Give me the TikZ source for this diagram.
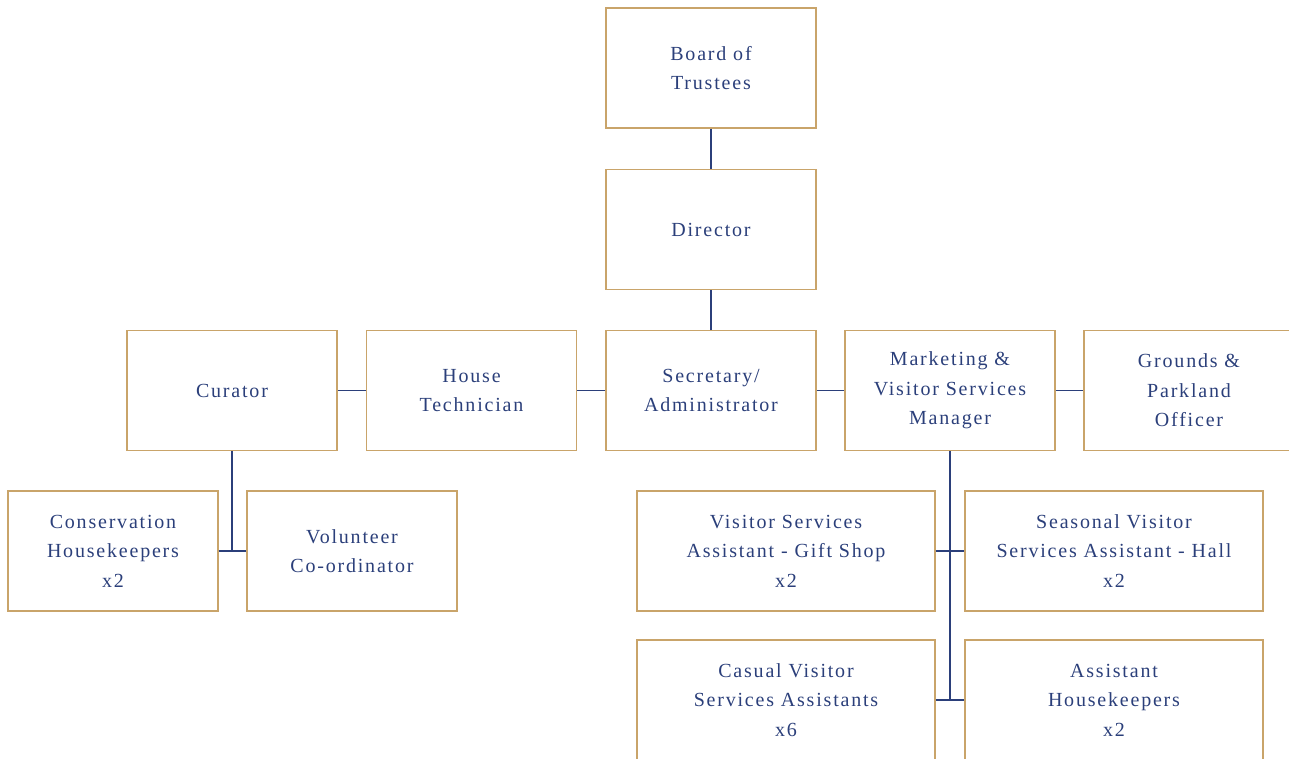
\documentclass[tikz,border=0pt]{standalone}
\usepackage{fontspec}
\usepackage{xcolor}
\usepackage{tikz}
\usetikzlibrary{positioning,calc}
\newfontfamily\orgfont[LetterSpace=9]{Liberation Serif}
\definecolor{navy}{HTML}{2B3F7A}
\definecolor{gold}{HTML}{C9A46A}
\tikzset{
    post/.style={draw=gold, line width=1.4pt, text=navy, align=center,
        minimum width=210pt, minimum height=120pt, inner sep=0pt,
        font=\orgfont\fontsize{20}{29.5}\selectfont},
    widepost/.style={post, minimum width=298pt},
    link/.style={draw=navy, line width=1.4pt}
}
\begin{document}
\begin{tikzpicture}[x=1pt, y=-1pt]
    \useasboundingbox (0, 0) rectangle (1289, 758);
    \clip (0, 0) rectangle (1289, 758);

    % Top of the tree
    \node[post] (board) at (711, 68) {Board of\\Trustees};
    \node[post] (director) at (711, 229.5) {Director};

    % Middle row
    \node[post] (curator) at (232, 390.5) {Curator};
    \node[post] (technician) at (471.5, 390.5) {House\\Technician};
    \node[post] (secretary) at (711, 390.5) {Secretary/\\Administrator};
    \node[post] (marketing) at (950, 390.5) {Marketing \&\\Visitor Services\\Manager};
    \node[post] (grounds) at (1189, 390.5) {Grounds \&\\Parkland\\Officer};

    % Curator's staff
    \node[post] (conservation) at (113, 551) {Conservation\\Housekeepers\\x2};
    \node[post] (volunteer) at (352, 551) {Volunteer\\Co-ordinator};

    % Visitor services staff
    \node[widepost] (giftshop) at (786, 551) {Visitor Services\\Assistant - Gift Shop\\x2};
    \node[widepost] (seasonal) at (1114, 551) {Seasonal Visitor\\Services Assistant - Hall\\x2};
    \node[widepost] (casual) at (786, 700) {Casual Visitor\\Services Assistants\\x6};
    \node[widepost] (assistant) at (1114, 700) {Assistant\\Housekeepers\\x2};

    % Lines
    \draw[link] (board.south) -- (director.north);
    \draw[link] (director.south) -- (secretary.north);
    \draw[link] (curator.east) -- (technician.west);
    \draw[link] (technician.east) -- (secretary.west);
    \draw[link] (secretary.east) -- (marketing.west);
    \draw[link] (marketing.east) -- (grounds.west);
    \draw[link] (curator.south) |- (conservation.east);
    \draw[link] (conservation.east) -- (volunteer.west);
    \draw[link] (marketing.south) |- (casual.east);
    \draw[link] (giftshop.east) -- (seasonal.west);
    \draw[link] (casual.east) -- (assistant.west);
\end{tikzpicture}
\end{document}
